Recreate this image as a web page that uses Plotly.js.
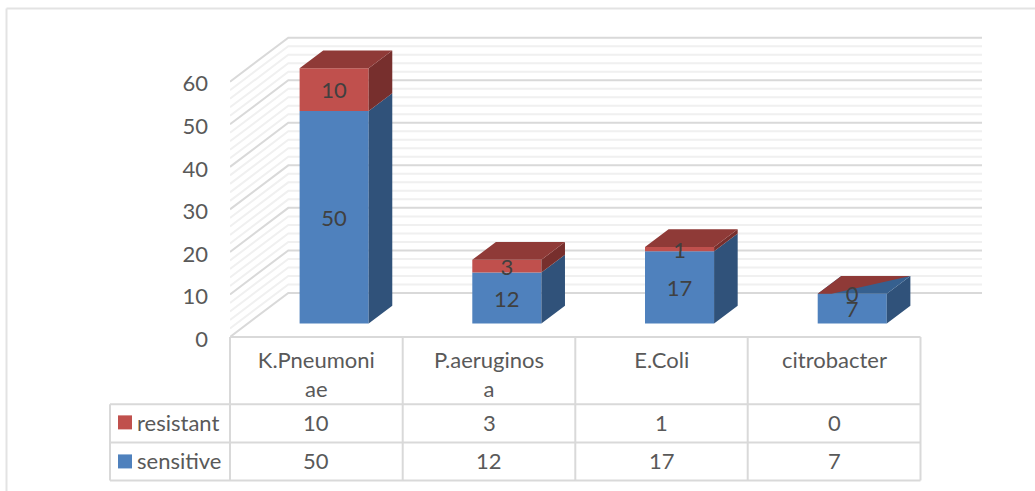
<!DOCTYPE html>
<html>
<head>
<meta charset="utf-8">
<script src="https://cdn.plot.ly/plotly-3.0.1.min.js"></script>
<style>html,body{margin:0;padding:0;background:#fff;overflow:hidden}</style>
</head>
<body>
<div id="chart" style="width:1035px;height:491px"></div>
<script>
// ---- data ----
var categories = ["K.Pneumoni<br>ae", "P.aeruginos<br>a", "E.Coli", "citrobacter"];
var resistant = [10, 3, 1, 0];
var sensitive = [50, 12, 17, 7];
var majorTicks = [0, 10, 20, 30, 40, 50, 60];
var minorTicks = [2, 4, 6, 8, 12, 14, 16, 18, 22, 24, 26, 28, 32, 34, 36, 38, 42, 44, 46, 48, 52, 54, 56, 58];

// ---- page geometry (pixels) ----
var W = 1035, H = 491;
var plotL = 230, plotR = 982, plotT = 35, plotB = 336.7;
var pxPerCat = 172.7, pxPerVal = 4.25;
var xMin = -0.5, xMax = xMin + (plotR - plotL) / pxPerCat;
var yMax = (plotB - plotT) / pxPerVal;
function px(p) { return (p - plotL) / (plotR - plotL); }
function py(p) { return (plotB - p) / (plotB - plotT); }

// 3-D projection offsets, in axis units
var wallDX = 58.3 / pxPerCat, wallDY = 44 / pxPerVal;
var barBase = 13.4 / pxPerVal;
var barShift = 0.103, barW = 0.4;
var depthDX = 23.6 / pxPerCat, depthDY = 17.7 / pxPerVal;
var labelNudge = 3 / pxPerVal;
var lidSplit = 0.2;

var BLUE = "#4F81BD", RED = "#C0504D", BLUE_SIDE = "#30527A", RED_SIDE = "#772F2D",
    RED_TOP = "#8F3A37", BLUE_TOP = "#36608F", GRID = "#D9D9D9", MINOR = "#F0F0F0",
    TEXT = "#595959", LABEL = "#404040";
var FONT = "Lato, 'Open Sans', sans-serif";
var FS = 22;

var xs = categories.map(function (_, i) { return i + barShift; });
var sensBase = xs.map(function () { return barBase; });
var resBase = sensitive.map(function (v) { return barBase + v; });

function faces(color) { return { x: [], y: [], type: "scatter", mode: "lines", fill: "toself", fillcolor: color,
  line: { width: 0, color: color }, hoverinfo: "skip", showlegend: false }; }
function addPoly(t, pts) { pts.forEach(function (p) { t.x.push(p[0]); t.y.push(p[1]); });
  t.x.push(pts[0][0]); t.y.push(pts[0][1]); t.x.push(null); t.y.push(null); }

var sideBlue = faces(BLUE_SIDE), sideRed = faces(RED_SIDE), topBlue = faces(BLUE_TOP), topRed = faces(RED_TOP);
xs.forEach(function (c, i) {
  var l = c - barW / 2, r = c + barW / 2, b0 = sensBase[i], b1 = resBase[i], b2 = b1 + resistant[i];
  addPoly(sideBlue, [[r, b0], [r + depthDX, b0 + depthDY], [r + depthDX, b1 + depthDY], [r, b1]]);
  if (resistant[i] > 0) {
    addPoly(sideRed, [[r, b1], [r + depthDX, b1 + depthDY], [r + depthDX, b2 + depthDY], [r, b2]]);
    addPoly(topRed, [[l, b2], [l + depthDX, b2 + depthDY], [r + depthDX, b2 + depthDY], [r, b2]]);
  } else {
    // zero-height segment: both series' lids coincide and split along a slanted edge
    addPoly(topBlue, [[l, b2], [l + depthDX, b2 + depthDY], [r + depthDX, b2 + depthDY], [r, b2]]);
    addPoly(topRed, [[l, b2], [l + depthDX, b2 + depthDY], [r + depthDX, b2 + depthDY], [l + lidSplit * barW, b2]]);
  }
});

var traces = [
  { type: "bar", name: "sensitive", x: xs, y: sensitive, base: sensBase, width: barW, marker: { color: BLUE }, hoverinfo: "skip", showlegend: false },
  { type: "bar", name: "resistant", x: xs, y: resistant, base: resBase, width: barW, marker: { color: RED }, hoverinfo: "skip", showlegend: false },
  sideBlue, sideRed, topBlue, topRed,
  { type: "scatter", mode: "text", x: xs, y: sensitive.map(function (v, i) { return sensBase[i] + v / 2 - labelNudge; }),
    text: sensitive.map(String), textposition: "middle center", textfont: { family: FONT, size: FS, color: LABEL }, hoverinfo: "skip", showlegend: false },
  { type: "scatter", mode: "text", x: xs, y: resistant.map(function (v, i) { return resBase[i] + v / 2 - labelNudge; }),
    text: resistant.map(String), textposition: "middle center", textfont: { family: FONT, size: FS, color: LABEL }, hoverinfo: "skip", showlegend: false }
];

var shapes = [];
function wallLine(v, color) {
  shapes.push({ type: "path", layer: "below", xref: "x", yref: "y",
    path: "M" + xMin + "," + v + "L" + (xMin + wallDX) + "," + (v + wallDY) + "L" + xMax + "," + (v + wallDY),
    line: { color: color, width: 2 } });
}
minorTicks.forEach(function (v) { wallLine(v, MINOR); });
majorTicks.forEach(function (v) { wallLine(v, GRID); });

function seg(x0, y0, x1, y1, color) {
  shapes.push({ type: "line", xref: "paper", yref: "paper", x0: px(x0), y0: py(y0), x1: px(x1), y1: py(y1),
    line: { color: color, width: 2 } });
}
// outer frame (top and left only)
seg(6.5, 8.5, 1035, 8.5, "#E3E3E3");
seg(6.5, 8.5, 6.5, 491, "#E3E3E3");
// data table rules
var colX = [230, 402.7, 575.3, 747.7, 920.5];
seg(230, 336.7, 920.5, 336.7, GRID);
[404, 442, 480].forEach(function (y) { seg(110, y, 920.5, y, GRID); });
seg(110, 404, 110, 480, GRID);
colX.forEach(function (x) { seg(x, 336.7, x, 480, GRID); });
// legend keys
function key(y0, color) {
  shapes.push({ type: "rect", xref: "paper", yref: "paper", x0: px(118), x1: px(132), y0: py(y0), y1: py(y0 + 14),
    fillcolor: color, line: { width: 0 } });
}
key(415, RED); key(454, BLUE);

var annotations = [];
function rowText(name, values, yc) {
  annotations.push({ xref: "paper", yref: "paper", x: px(135), y: py(yc), xanchor: "left", yanchor: "middle",
    text: name, showarrow: false, font: { family: FONT, size: FS, color: TEXT } });
  values.forEach(function (v, i) {
    annotations.push({ xref: "x", yref: "paper", x: i, y: py(yc), xanchor: "center", yanchor: "middle",
      text: String(v), showarrow: false, font: { family: FONT, size: FS, color: TEXT } });
  });
}
rowText("resistant", resistant, 422);
rowText("sensitive", sensitive, 460);

var layout = {
  width: W, height: H,
  margin: { l: plotL, r: W - plotR, t: plotT, b: H - plotB, pad: 0 },
  paper_bgcolor: "#fff", plot_bgcolor: "rgba(0,0,0,0)",
  barmode: "overlay", showlegend: false,
  font: { family: FONT, size: FS, color: TEXT },
  xaxis: { range: [xMin, xMax], tickmode: "array", tickvals: categories.map(function (_, i) { return i; }), ticktext: categories,
    showgrid: false, zeroline: false, showline: false, ticks: "", tickangle: 0, ticklabelstandoff: 8, fixedrange: true,
    tickfont: { family: FONT, size: FS, color: TEXT } },
  yaxis: { range: [0, yMax], tickmode: "array", tickvals: majorTicks, ticktext: majorTicks.map(String),
    showgrid: false, zeroline: false, showline: false, ticks: "", ticklabelstandoff: 21, ticklabelshift: 2, fixedrange: true,
    tickfont: { family: FONT, size: FS, color: TEXT } },
  shapes: shapes, annotations: annotations
};
Plotly.newPlot("chart", traces, layout, { displayModeBar: false, staticPlot: true });
</script>
</body>
</html>
